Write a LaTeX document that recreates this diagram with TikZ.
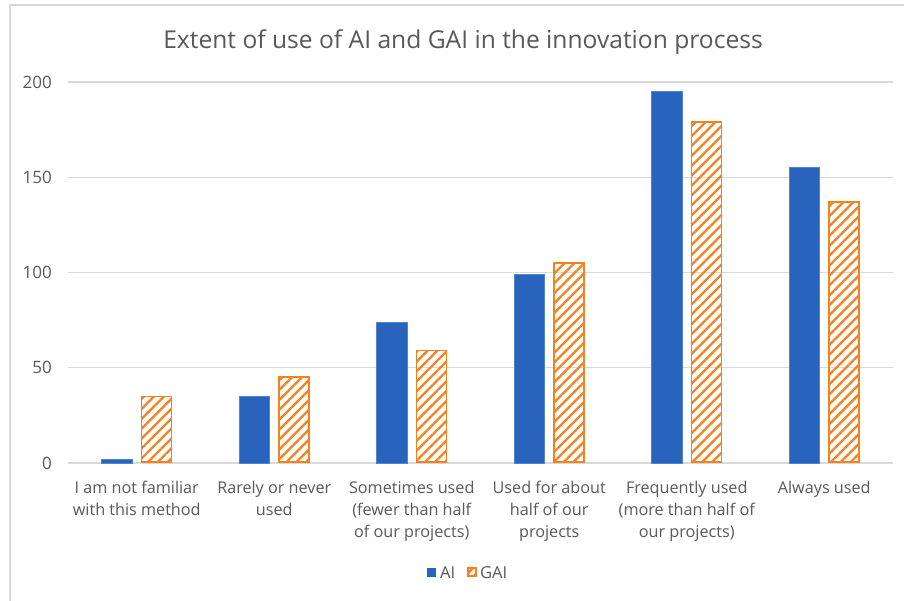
\documentclass[tikz,border=0pt]{standalone}
\usepackage{fontspec}
\setmainfont{Open Sans}
\usetikzlibrary{patterns.meta}
\definecolor{aiblue}{HTML}{2864BE}
\definecolor{gaior}{HTML}{F5821F}
\definecolor{gridc}{HTML}{D9D9D9}
\definecolor{txtc}{HTML}{595959}
\definecolor{framec}{HTML}{D9D9D9}
\tikzset{
  gridline/.style={draw=gridc, line width=1.3pt},
  ticklab/.style={anchor=east, inner sep=0pt, text=txtc, font=\fontsize{17}{22}\selectfont},
  catlab/.style={anchor=north, inner sep=0pt, align=center, text=txtc, font=\fontsize{16.2}{22.3}\selectfont},
  aibar/.style={fill=aiblue, draw=aiblue!80!white, line width=0.6pt},
  gaibar/.style={pattern={Lines[angle=45, distance=7pt, line width=2.3pt]}, pattern color=gaior, draw=gaior, line width=1.6pt},
  titlelab/.style={inner sep=0pt, text=txtc, font=\fontsize{24.6}{30}\selectfont},
  leglab/.style={anchor=west, inner sep=0pt, text=txtc, font=\fontsize{16.5}{22}\selectfont},
}
\begin{document}
\begin{tikzpicture}[x=1pt,y=1pt]
\useasboundingbox (0,0) rectangle (904,600);
\fill[white] (0,0) rectangle (904,600);
\draw[framec, line width=1.3pt] (10,-5) |- (910,595);
\node[titlelab] (title) at (463,558) {Extent of use of AI and GAI in the innovation process};
% gridlines and tick labels
\foreach \v/\n in {0/t0,50/t50,100/t100,150/t150,200/t200}{
  \pgfmathsetmacro{\yy}{137+1.905*\v}
  \draw[gridline] (68,\yy) -- (893,\yy);
  \node[ticklab] (\n) at (52,\yy) {\v};
}
% bars
\foreach \i/\a/\g in {0/2/35,1/35/45,2/74/59,3/99/105,4/195/179,5/155/137}{
  \pgfmathsetmacro{\c}{136.75+137.5*\i}
  \pgfmathsetmacro{\ya}{137+1.905*\a}
  \pgfmathsetmacro{\yg}{137+1.905*\g}
  \path[aibar] (\c-35,137) rectangle (\c-4.5,\ya);
  \path[gaibar] (\c+4.8,137.8) rectangle (\c+34.8,\yg);
}
% category labels
\node[catlab] (c1) at (136.75,119.5) {I am not familiar\\with this method};
\node[catlab] (c2) at (274.25,119.5) {Rarely or never\\used};
\node[catlab] (c3) at (411.75,119.5) {Sometimes used\\(fewer than half\\of our projects)};
\node[catlab] (c4) at (549.25,119.5) {Used for about\\half of our\\projects};
\node[catlab] (c5) at (686.75,119.5) {Frequently used\\(more than half of\\our projects)};
\node[catlab] (c6) at (824.25,119.5) {Always used};
% legend
\path[fill=aiblue] (427,23) rectangle (436,32);
\node[leglab] (lai) at (440,27.5) {AI};
\path[pattern={Lines[angle=45, distance=6pt, line width=2.4pt]}, pattern color=gaior, draw=gaior, line width=1.6pt] (467.8,23.8) rectangle (476.2,32.2);
\node[leglab] (lgai) at (480,27.5) {GAI};
\end{tikzpicture}
\end{document}
